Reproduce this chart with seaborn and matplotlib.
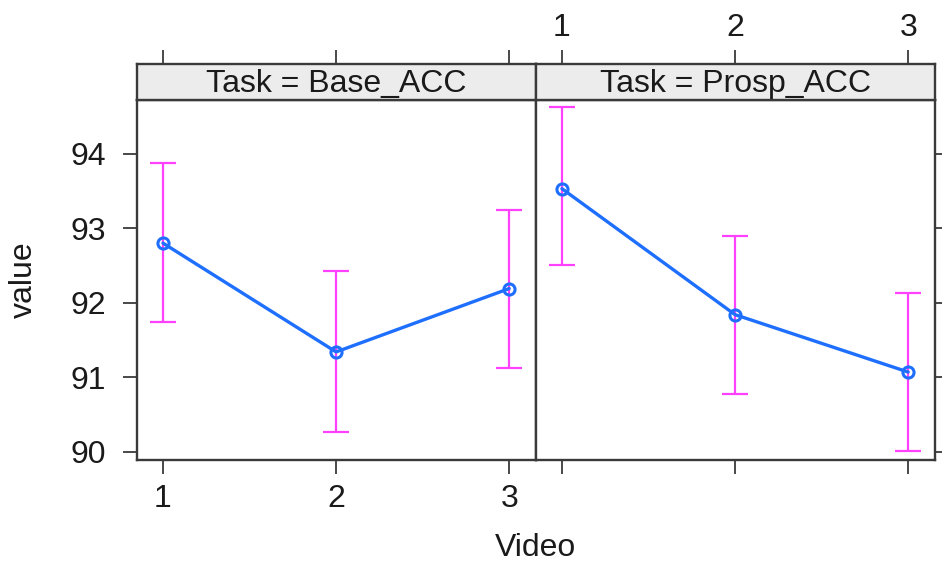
import matplotlib
matplotlib.use("Agg")
import matplotlib.pyplot as plt
import seaborn as sns
import pandas as pd
import numpy as np

tasks = ["Base_ACC", "Prosp_ACC"]
videos = [1, 2, 3]
base_mean = [92.80, 91.34, 92.19]
base_lower = [91.74, 90.27, 91.13]
base_upper = [93.87, 92.43, 93.25]
prosp_mean = [93.53, 91.84, 91.07]
prosp_lower = [92.50, 90.78, 90.01]
prosp_upper = [94.62, 92.90, 92.13]
y_ticks = [90, 91, 92, 93, 94]

sns.set_theme(style="white")
plt.rcParams['font.family'] = ['Liberation Sans', 'DejaVu Sans']

df = pd.DataFrame({
    "Task": [tasks[0]] * 3 + [tasks[1]] * 3,
    "Video": videos * 2,
    "value": base_mean + prosp_mean,
    "lower": base_lower + prosp_lower,
    "upper": base_upper + prosp_upper,
})

W, H = 942, 564
fig = plt.figure(figsize=(W / 100, H / 100), dpi=100)

frame_col = "#3a3a3a"
line_col = "#1f6fff"
err_col = "#ff40ff"
txt_col = "#1a1a1a"
fs = 23

panel_lefts = [137, 536]
panel_w = 399
ax_top, ax_bot = 100, 460
strip_top = 64

xlim = (0.85, 3.155)
ylim = (89.89, 94.72)

for i, task in enumerate(tasks):
    sub = df[df["Task"] == task]
    left = panel_lefts[i] / W
    ax = fig.add_axes([left, 1 - ax_bot / H, panel_w / W, (ax_bot - ax_top) / H])
    sax = fig.add_axes([left, 1 - ax_top / H, panel_w / W, (ax_top - strip_top) / H])

    ax.errorbar(sub["Video"], sub["value"],
                yerr=[sub["value"] - sub["lower"], sub["upper"] - sub["value"]],
                fmt="none", ecolor=err_col, elinewidth=1.6, capsize=9.5, capthick=1.6, zorder=2)
    sns.lineplot(data=sub, x="Video", y="value", ax=ax, color=line_col, linewidth=2.4,
                 marker="o", markersize=8, markerfacecolor="none", markeredgecolor=line_col,
                 markeredgewidth=2.2, errorbar=None, zorder=3)

    ax.set_xlim(*xlim)
    ax.set_ylim(*ylim)
    ax.set_xticks(videos)
    ax.set_yticks(y_ticks)
    ax.set_xlabel("")
    ax.set_ylabel("")
    for sp in ax.spines.values():
        sp.set_color(frame_col)
        sp.set_linewidth(1.7)
        sp.set_visible(True)
    ax.tick_params(direction="out", length=10, width=1.3, color=frame_col, labelsize=fs,
                   labelcolor=txt_col)
    ax.tick_params(axis="x", bottom=True, top=False, labelbottom=(i == 0), pad=7)
    if i == 0:
        ax.tick_params(axis="y", left=True, right=False, labelleft=True, labelright=False, pad=12)
    else:
        ax.tick_params(axis="y", left=False, right=True, labelleft=False, labelright=False)

    # strip
    sax.set_facecolor("#ececec")
    sax.set_xlim(*xlim)
    sax.set_ylim(0, 1)
    sax.set_yticks([])
    sax.set_xticks(videos)
    sax.tick_params(axis="x", direction="out", length=10, width=1.3, color=frame_col,
                    bottom=False, top=True, labelbottom=False, labeltop=(i == 1),
                    labelsize=fs, pad=5, labelcolor=txt_col)
    for sp in sax.spines.values():
        sp.set_color(frame_col)
        sp.set_linewidth(1.7)
        sp.set_visible(True)
    sax.text(0.5, 0.44, f"Task = {task}", transform=sax.transAxes, ha="center",
             va="center", fontsize=fs, color=txt_col)

fig.text(535 / W, 1 - 548 / H, "Video", ha="center", va="center", fontsize=fs, color=txt_col)
fig.text(24 / W, 1 - 280 / H, "value", ha="center", va="center", rotation=90,
         fontsize=fs, color=txt_col)

fig.savefig("out.png", dpi=100)
